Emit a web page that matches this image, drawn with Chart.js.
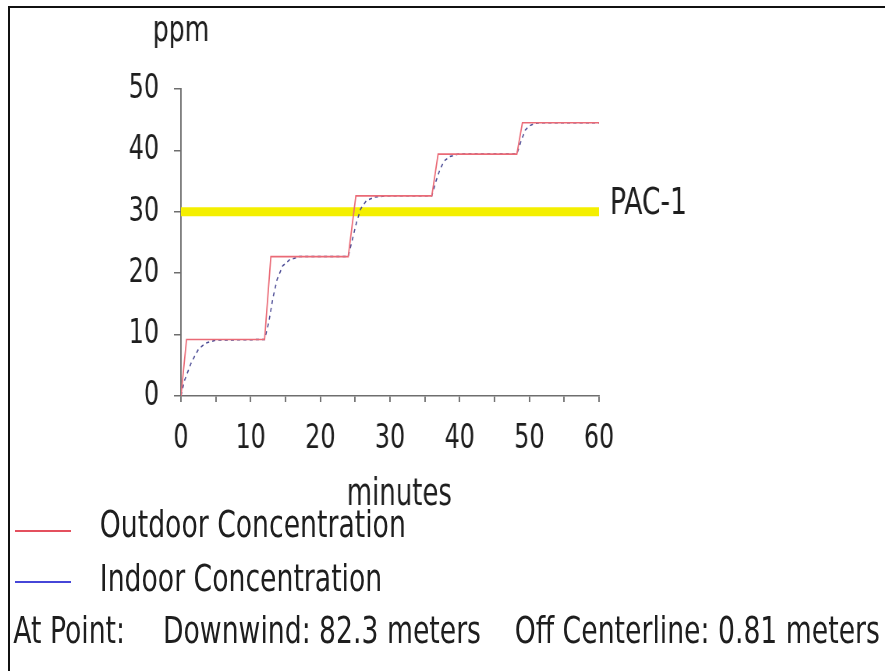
<!DOCTYPE html>
<html>
<head>
<meta charset="utf-8">
<script src="https://cdn.jsdelivr.net/npm/chart.js@4.4.1/dist/chart.umd.min.js"></script>
<style>
	body { margin: 0; background: #fff; }
	#page { position: relative; width: 885px; height: 671px; overflow: hidden; color: #1e1e1e; }
	#frame { position: absolute; left: 8px; top: 6px; width: 900px; height: 700px; border-top: 2px solid #111; border-left: 2px solid #111; }
	/* the whole drawing is narrowed horizontally, like the condensed print of the original viewer */
	#wide { position: absolute; left: 0; top: 0; width: 1135px; height: 671px; transform: scaleX(0.78); transform-origin: 0 0; font-family: 'DejaVu Sans Condensed', 'DejaVu Sans', sans-serif; }
	#plot { position: absolute; left: 0; top: 0; }
	.key { position: absolute; left: 15px; width: 56px; height: 2px; }
	.txt { position: absolute; font-size: 38px; line-height: 40px; white-space: nowrap; }
</style>
</head>
<body>
<div id="page">
	<div id="frame"></div>
	<div id="wide">
		<canvas id="plot" width="1135" height="671"></canvas>
		<div class="txt" id="lab0" style="left:128px; top:504px"></div>
		<div class="txt" id="lab1" style="left:128px; top:558px"></div>
		<div class="txt" style="left:17px; top:610px">At Point:</div>
		<div class="txt" style="left:209px; top:610px">Downwind: 82.3 meters</div>
		<div class="txt" style="left:660px; top:610px">Off Centerline: 0.81 meters</div>
	</div>
	<div class="key" id="key0" style="top:530px"></div>
	<div class="key" id="key1" style="top:581px"></div>
</div>
<script>
// Data

let seriesNames = ['Outdoor Concentration', 'Indoor Concentration'];
let seriesColors = ['#e4505e', '#4646d8'];

// outdoor concentration, step profile (minutes, ppm)
let outdoorTime = [0, 0.8, 12.0, 12.9, 24.0, 25.1, 36.0, 36.9, 48.2, 49.0, 60];
let outdoorPpm = [0, 9.2, 9.2, 22.7, 22.7, 32.6, 32.6, 39.4, 39.4, 44.5, 44.5];

// indoor concentration lags the outdoor steps
let indoorTime = [0, 0.5, 1.5, 2.5, 3.5, 5, 12, 12.6, 13.2, 13.8, 14.6, 15.6, 17, 24, 24.6, 25.2, 25.8, 26.6, 27.8, 29.5, 36, 36.6, 37.2, 37.8, 38.6, 39.8, 48.2, 48.8, 49.4, 50.0, 50.8, 51.5, 60];
let indoorPpm = [0, 2.5, 5.5, 7.6, 8.6, 9.1, 9.2, 12, 16, 19, 21.2, 22.2, 22.7, 22.7, 25.5, 28.3, 30.5, 31.8, 32.4, 32.6, 32.6, 35, 37, 38.3, 39, 39.4, 39.4, 41.5, 43.3, 44.0, 44.4, 44.5, 44.5];

// PAC-1 threshold
let pacLevel = 30;
let pacLabel = 'PAC-1';

let xTicks = [0, 10, 20, 30, 40, 50, 60];
let yTicks = [0, 10, 20, 30, 40, 50];
let xTitle = 'minutes';
let yTitle = 'ppm';

// Helpers

function pairs(xs, ys) {
	return xs.map(function(x, i) { return {x: x, y: ys[i]}; });
}

let fontFamily = "'DejaVu Sans Condensed', 'DejaVu Sans', sans-serif";

// legend in the page
document.getElementById('lab0').textContent = seriesNames[0];
document.getElementById('lab1').textContent = seriesNames[1];
document.getElementById('key0').style.background = seriesColors[0];
document.getElementById('key1').style.background = seriesColors[1];

// Extra labels: axis titles and threshold name

let extraText = {
	id: 'extraText',
	afterDraw: function(chart) {
		let ctx = chart.ctx;
		let xs = chart.scales.x;
		let ys = chart.scales.y;
		ctx.save();
		ctx.fillStyle = '#1e1e1e';
		ctx.textBaseline = 'middle';
		ctx.textAlign = 'center';
		ctx.font = '36px ' + fontFamily;
		ctx.fillText(yTitle, xs.getPixelForValue(xTicks[0]), 32);
		ctx.font = '37px ' + fontFamily;
		ctx.fillText(xTitle, (xs.left + xs.right) / 2 + 12, 495);
		ctx.textAlign = 'left';
		ctx.font = '38px ' + fontFamily;
		ctx.fillText(pacLabel, xs.right + 14, ys.getPixelForValue(pacLevel) - 8);
		ctx.restore();
	}
};

// Chart

new Chart('plot', {
	type: 'line',
	data: {
		datasets: [{
			data: pairs(outdoorTime, outdoorPpm),
			borderColor: '#ea6a76',
			borderWidth: 1.7,
			order: 1
		},
		{
			data: pairs(indoorTime, indoorPpm),
			borderColor: '#4a4a94',
			borderWidth: 1.5,
			borderDash: [4, 4],
			order: 2
		},
		{
			data: pairs([xTicks[0], xTicks[xTicks.length - 1]], [pacLevel, pacLevel]),
			borderColor: '#f4ef00',
			borderWidth: 9,
			order: 3
		}]
	},
	options: {
		responsive: false,
		animation: false,
		elements: { point: { radius: 0 }, line: { tension: 0 } },
		layout: {
			autoPadding: false,
			padding: { left: 0, top: 89, right: 367, bottom: 215 }
		},
		plugins: {
			legend: { display: false },
			tooltip: { enabled: false }
		},
		scales: {
			x: {
				type: 'linear',
				min: 0,
				max: 60,
				afterFit: function(scale) { scale.height = 60; },
				border: { display: true, color: '#6e6e6e', width: 1.5 },
				grid: { drawOnChartArea: false, drawTicks: true, tickLength: 6, color: '#6e6e6e', lineWidth: 1.9 },
				ticks: {
					stepSize: 5,
					autoSkip: false,
					maxRotation: 0,
					padding: 17,
					color: '#1e1e1e',
					font: { family: fontFamily, size: 34 },
					callback: function(v) { return xTicks.indexOf(v) >= 0 ? String(v) : ''; }
				}
			},
			y: {
				min: 0,
				max: 50,
				afterFit: function(scale) { scale.width = 232; },
				border: { display: true, color: '#6e6e6e', width: 1.9 },
				grid: { drawOnChartArea: false, drawTicks: true, tickLength: 9, color: '#6e6e6e', lineWidth: 1.5 },
				ticks: {
					stepSize: 10,
					padding: 19,
					color: '#1e1e1e',
					font: { family: fontFamily, size: 34 },
					callback: function(v) { return yTicks.indexOf(v) >= 0 ? String(v) : ''; }
				}
			}
		}
	},
	plugins: [extraText]
});
</script>
</body>
</html>
